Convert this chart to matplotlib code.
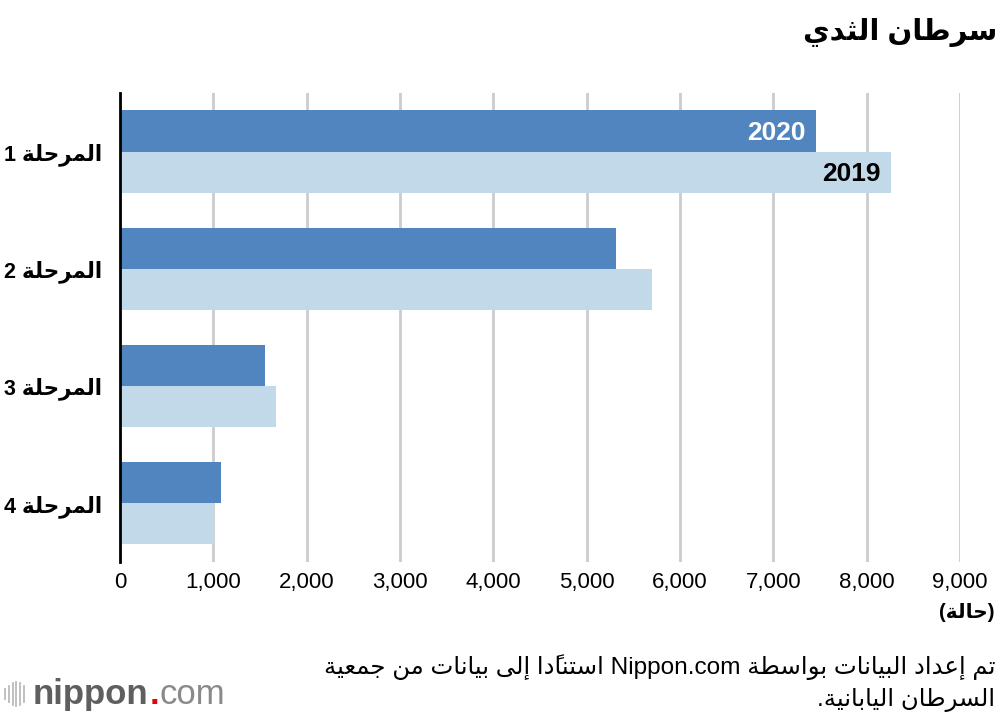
import re
import matplotlib
matplotlib.use("Agg")
import matplotlib.pyplot as plt
import numpy as np
from matplotlib.lines import Line2D

plt.rcParams['font.family'] = ['Liberation Sans', 'DejaVu Sans']

# data
stages = ["المرحلة 1", "المرحلة 2", "المرحلة 3", "المرحلة 4"]
cases_2020 = [7455, 5315, 1555, 1085]
cases_2019 = [8260, 5700, 1670, 1005]
xticks = [0, 1000, 2000, 3000, 4000, 5000, 6000, 7000, 8000, 9000]
title = "سرطان الثدي"
unit = "(حالة)"
source_1 = "تم إعداد البيانات بواسطة Nippon.com استنادًا إلى بيانات من جمعية"
source_2 = "السرطان اليابانية."

# minimal arabic shaping + rtl ordering (matplotlib does neither)
DUAL = dict(zip("بتثجحخسشصضطظعغفقكلمنهي",
                [0xFE8F, 0xFE95, 0xFE99, 0xFE9D, 0xFEA1, 0xFEA5, 0xFEB1, 0xFEB5,
                 0xFEB9, 0xFEBD, 0xFEC1, 0xFEC5, 0xFEC9, 0xFECD, 0xFED1, 0xFED5,
                 0xFED9, 0xFEDD, 0xFEE1, 0xFEE5, 0xFEE9, 0xFEF1]))
RIGHT = dict(zip("آأإاةدذرزوى",
                 [0xFE81, 0xFE83, 0xFE87, 0xFE8D, 0xFE93, 0xFEA9, 0xFEAB, 0xFEAD,
                  0xFEAF, 0xFEED, 0xFEEF]))
LAMALEF = {"آ": 0xFEF5, "أ": 0xFEF7, "إ": 0xFEF9, "ا": 0xFEFB}
MIRROR = {"(": ")", ")": "(", "[": "]", "]": "["}


def is_mark(ch):
    return 0x064B <= ord(ch) <= 0x065F


def clusters_of(word):
    cl = []
    for ch in word:
        if is_mark(ch) and cl:
            cl[-1][1] += ch
        else:
            cl.append([ch, ""])
    return cl


def shape_word(word):
    cl = clusters_of(word)
    merged = []
    i = 0
    while i < len(cl):
        if cl[i][0] == "ل" and i + 1 < len(cl) and cl[i + 1][0] in LAMALEF:
            merged.append(["LA" + cl[i + 1][0], cl[i][1] + cl[i + 1][1]])
            i += 2
        else:
            merged.append(cl[i])
            i += 1
    out = []
    for i, (ch, marks) in enumerate(merged):
        prev = merged[i - 1][0] if i > 0 else None
        nxt = merged[i + 1][0] if i + 1 < len(merged) else None
        jp = prev in DUAL
        if ch.startswith("LA"):
            g = chr(LAMALEF[ch[2]] + (1 if jp else 0))
        elif ch in DUAL:
            jn = nxt is not None and (nxt in DUAL or nxt in RIGHT or nxt.startswith("LA"))
            g = chr(DUAL[ch] + (3 if jp and jn else 1 if jp else 2 if jn else 0))
        elif ch in RIGHT:
            g = chr(RIGHT[ch] + (1 if jp else 0))
        else:
            g = ch
        out.append([g, marks])
    return out


def ar(text):
    words = text.split(" ")
    out = []
    for w in reversed(words):
        if re.search(r"[\u0600-\u06FF]", w):
            cl = shape_word(w)[::-1]
            out.append("".join(MIRROR.get(g, g) + m for g, m in cl))
        else:
            out.append(w)
    return " ".join(out)


fig = plt.figure(figsize=(10, 7.2), dpi=100)
ax = fig.add_axes([0.12, 0.2194, 0.84, 0.6516])

y = np.arange(len(stages))
h = 0.35
ax.barh(y - h / 2, cases_2020, height=h, color="#5185bf", zorder=3)
ax.barh(y + h / 2, cases_2019, height=h, color="#c2d9ea", zorder=3)

ax.text(cases_2020[0] - 110, y[0] - h / 2 + 0.02, "2020", ha="right", va="center",
        color="white", fontsize=19, fontweight="bold", zorder=4)
ax.text(cases_2019[0] - 110, y[0] + h / 2 + 0.02, "2019", ha="right", va="center",
        color="black", fontsize=19, fontweight="bold", zorder=4)

ax.set_xlim(0, 9000)
ax.set_ylim(len(stages) - 0.5, -0.5)
ax.set_xticks(xticks)
ax.set_xticklabels([f"{v:,}" for v in xticks], fontsize=16)
ax.set_yticks(y)
ax.set_yticklabels([ar(s) for s in stages], fontsize=15.5, fontweight="bold")
ax.tick_params(axis="y", length=0, pad=13)
ax.tick_params(axis="x", length=0, pad=7)
ax.grid(axis="x", color="#cccccc", linewidth=2, zorder=0)
for s in ["top", "right", "bottom"]:
    ax.spines[s].set_visible(False)
ax.spines["left"].set_linewidth(2)
ax.spines["left"].set_zorder(5)

fig.text(0.997, 0.955, ar(title), ha="right", va="center", fontsize=21, fontweight="bold")
fig.text(0.995, 0.15, ar(unit), ha="right", va="center", fontsize=14.5, fontweight="bold")
fig.text(0.995, 0.074, ar(source_1), ha="right", va="center", fontsize=17.6)
fig.text(0.995, 0.028, ar(source_2), ha="right", va="center", fontsize=17.6)

# logo
heights = [0.014, 0.022, 0.03, 0.034, 0.03, 0.022]
for xx, hh in zip(np.linspace(0.005, 0.024, 6), heights):
    fig.add_artist(Line2D([xx, xx], [0.036 - hh / 2, 0.036 + hh / 2],
                          color="#bbbbbb", lw=1.3))
r = fig.canvas.get_renderer()
t1 = fig.text(0.033, 0.035, "nippon", ha="left", va="center", fontsize=25,
              fontweight="bold", color="#5f5f5f")
bb = t1.get_window_extent(r)
t2 = fig.text(bb.x1 / 1000 + 0.001, 0.035, ".", ha="left", va="center", fontsize=25,
              fontweight="bold", color="#e60012")
bb = t2.get_window_extent(r)
fig.text(bb.x1 / 1000, 0.035, "com", ha="left", va="center", fontsize=25,
         color="#8a8a8a")

fig.savefig("out.png", dpi=100)
